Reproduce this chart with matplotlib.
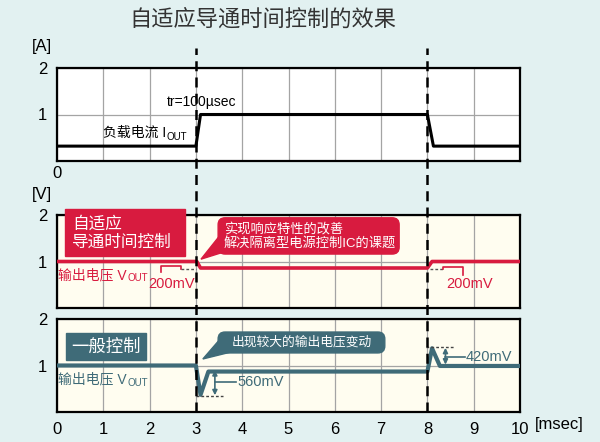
import numpy as np
import matplotlib.pyplot as plt
from matplotlib.patches import Rectangle, FancyBboxPatch, Polygon

plt.rcParams['font.family'] = ['Liberation Sans', 'Noto Sans CJK SC', 'DejaVu Sans']

# load current [A]
t_iout = [0, 3.0, 3.1, 8.0, 8.13, 10]
iout = [0.32, 0.32, 1.0, 1.0, 0.32, 0.32]
# output voltage with adaptive on-time control [V]
t_adapt = [0, 3.02, 3.1, 8.0, 8.1, 10]
v_adapt = [1.0, 1.0, 0.86, 0.86, 1.0, 1.0]
# output voltage with conventional control [V]
t_conv = [0, 3.0, 3.1, 3.27, 8.0, 8.1, 8.27, 10]
v_conv = [1.0, 1.0, 0.37, 0.87, 0.87, 1.37, 0.99, 0.99]
x_ticks = list(range(11))
y_ticks = [1, 2]
edges = [3, 8]

BG = '#e2f1f1'
RED = '#d81b3f'
TEAL = '#3f6b78'
GRID = '#a4a4a4'

fig = plt.figure(figsize=(6, 4.42), dpi=100, facecolor=BG)

L, W, H = 57 / 600, 463 / 600, 93 / 442
def ax_at(top_px, face):
    ax = fig.add_axes([L, 1 - (top_px + 93) / 442, W, H], facecolor=face)
    ax.set_xlim(0, 10)
    ax.set_ylim(0, 2)
    ax.set_xticks(x_ticks)
    ax.set_yticks(y_ticks)
    ax.tick_params(length=0, labelsize=12, pad=7)
    ax.grid(True, color=GRID, lw=0.9)
    ax.set_axisbelow(True)
    for s in ax.spines.values():
        s.set_linewidth(1.6)
        s.set_color('black')
    return ax

def sub_label(ax, x, y, main, color):
    # main text, then a small "OUT" right after it
    t = ax.text(x, y, main, fontsize=10, color=color, va='center')
    ax.annotate('OUT', xy=(1, 0.5), xycoords=t, xytext=(0.5, -2.5),
                textcoords='offset points', fontsize=7, color=color,
                va='center', ha='left')

# ---- panel 1 : load current
ax1 = ax_at(68, 'white')
ax1.plot(t_iout, iout, color='black', lw=2.2, zorder=3)
ax1.set_xticklabels([])
ax1.text(0, -0.1, '0', ha='center', va='top', fontsize=12, clip_on=False)
ax1.text(2.37, 1.27, 'tr=100µsec', fontsize=10, va='center')
sub_label(ax1, 0.99, 0.6, '负载电流 I', 'black')

# ---- panel 2 : adaptive on-time control
ax2 = ax_at(215, '#fffdf0')
ax2.set_xticklabels([])
ax2.plot(t_adapt, v_adapt, color=RED, lw=2.6, zorder=3)
ax2.add_patch(Rectangle((0.17, 1.12), 2.59, 1.01, color=RED, clip_on=False, zorder=4))
ax2.text(0.32, 1.62, '自适应\n导通时间控制', color='white', fontsize=12,
         va='center', linespacing=1.2, zorder=5, clip_on=False)
ax2.add_patch(FancyBboxPatch((3.48, 1.16), 3.91, 0.78,
                             boxstyle='round,pad=0,rounding_size=0.15',
                             color=RED, zorder=4))
ax2.add_patch(Polygon([(3.11, 1.05), (3.55, 1.6), (3.75, 1.25)], color=RED, zorder=4))
ax2.text(3.6, 1.54, '实现响应特性的改善\n解决隔离型电源控制IC的课题', color='white',
         fontsize=9.5, va='center', linespacing=1.05, zorder=5)
sub_label(ax2, 0.02, 0.71, '输出电压 V', RED)
# 200mV markers
ax2.plot([2.25, 2.25, 2.68, 2.68], [0.77, 0.9, 0.9, 0.84], color=RED, lw=1.2, zorder=3)
ax2.plot([2.68, 3.0], [0.84, 0.84], color='#555555', lw=1, ls=(0, (2, 1.5)), zorder=3)
ax2.text(2.48, 0.52, '200mV', color=RED, fontsize=10.5, ha='center', va='center')
ax2.plot([8.05, 8.34], [0.84, 0.84], color='#555555', lw=1, ls=(0, (2, 1.5)), zorder=3)
ax2.plot([8.34, 8.34, 8.77, 8.77], [0.84, 0.89, 0.89, 0.71], color=RED, lw=1.2, zorder=3)
ax2.text(8.92, 0.52, '200mV', color=RED, fontsize=10.5, ha='center', va='center')

# ---- panel 3 : conventional control
ax3 = ax_at(319, '#fffdf0')
ax3.plot(t_conv, v_conv, color=TEAL, lw=3, zorder=3)
ax3.add_patch(Rectangle((0.19, 1.12), 1.73, 0.58, color=TEAL, zorder=4))
ax3.text(1.05, 1.4, '一般控制', color='white', fontsize=12.5,
         ha='center', va='center', zorder=5)
ax3.add_patch(FancyBboxPatch((3.48, 1.27), 3.6, 0.45,
                             boxstyle='round,pad=0,rounding_size=0.15',
                             color=TEAL, zorder=4))
ax3.add_patch(Polygon([(3.15, 1.14), (3.55, 1.6), (3.8, 1.3)], color=TEAL, zorder=4))
ax3.text(3.78, 1.49, '出现较大的输出电压变动', color='white', fontsize=9.2,
         va='center', zorder=5)
sub_label(ax3, 0.02, 0.69, '输出电压 V', TEAL)
# 560mV marker
ax3.plot([3.0, 3.58], [0.34, 0.34], color='#444444', lw=1, ls=(0, (2, 1.5)), zorder=3)
ax3.annotate('', xy=(3.41, 0.36), xytext=(3.41, 0.9),
             arrowprops=dict(arrowstyle='<|-|>', color=TEAL, lw=1.2,
                             mutation_scale=7, shrinkA=0, shrinkB=0))
ax3.plot([3.41, 3.87], [0.65, 0.65], color=TEAL, lw=1.2)
ax3.text(3.89, 0.65, '560mV', color=TEAL, fontsize=10.5, va='center')
# 420mV marker
ax3.plot([7.97, 8.57], [1.39, 1.39], color='#444444', lw=1, ls=(0, (2, 1.5)), zorder=3)
ax3.annotate('', xy=(8.39, 1.38), xytext=(8.39, 1.02),
             arrowprops=dict(arrowstyle='<|-|>', color=TEAL, lw=1.2,
                             mutation_scale=7, shrinkA=0, shrinkB=0))
ax3.plot([8.39, 8.81], [1.19, 1.19], color=TEAL, lw=1.2)
ax3.text(8.83, 1.19, '420mV', color=TEAL, fontsize=10.5, va='center')

# ---- dashed markers across all panels
ov = fig.add_axes([L, 1 - 412 / 442, W, (412 - 48) / 442])
ov.set_xlim(0, 10)
ov.set_ylim(0, 1)
ov.axis('off')
ov.patch.set_alpha(0)
for e in edges:
    ov.axvline(e, color='black', lw=1.8, ls=(0, (4, 2.5)))

# ---- labels
fig.text(0.438, 0.955, '自适应导通时间控制的效果', fontsize=16, color='#333333',
         ha='center', va='center')
fig.text(42 / 600, 1 - 47 / 442, '[A]', fontsize=12, ha='center', va='center')
fig.text(42 / 600, 1 - 195 / 442, '[V]', fontsize=12, ha='center', va='center')
fig.text(535 / 600, 1 - 425 / 442, '[msec]', fontsize=12, ha='left', va='center')

fig.savefig('out.png', dpi=100, facecolor=BG)
